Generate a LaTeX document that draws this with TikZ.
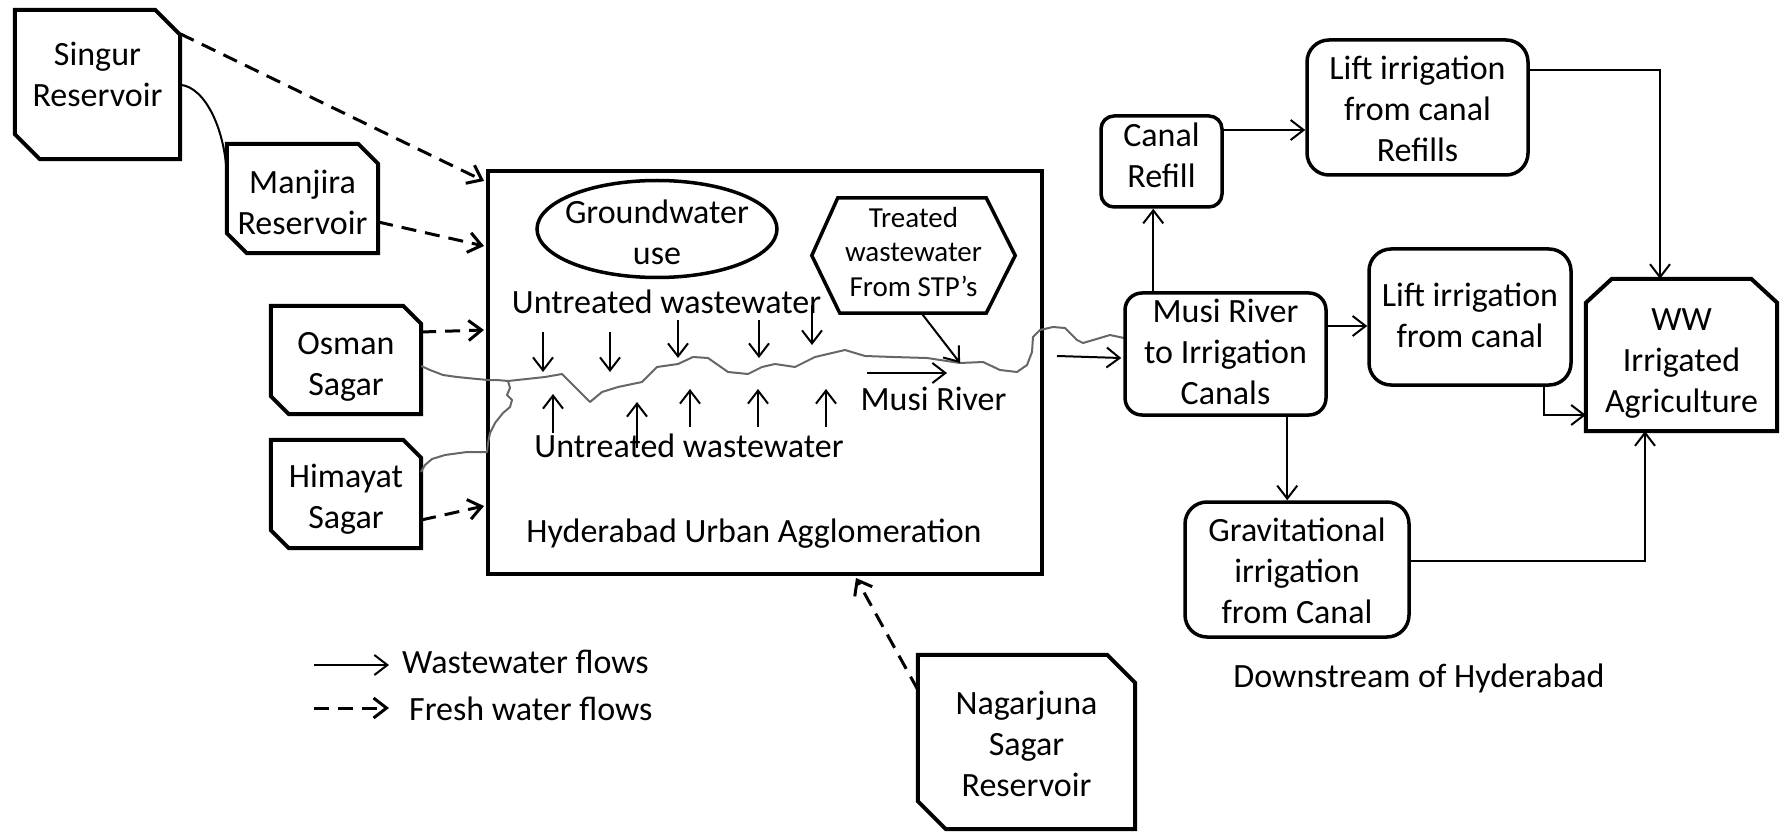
\documentclass[tikz,border=0pt]{standalone}
\usepackage{fontspec}
\setmainfont{Carlito}
\usetikzlibrary{arrows.meta,calc}
\newcommand\snipbox[2]{\draw[frame] (#1.north west) -- ([xshift=-#2 pt]#1.north east) -- ([yshift=-#2 pt]#1.north east) -- (#1.south east) -- ([xshift=#2 pt]#1.south west) -- ([yshift=#2 pt]#1.south west) -- cycle;}
\begin{document}
\begin{tikzpicture}[x=1pt,y=-1pt,
  T/.style={font=\fontsize{34}{41}\selectfont, align=center, inner sep=0pt, text height=24pt, text depth=8pt},
  frame/.style={line width=4pt, line join=miter},
  rbox/.style={T, draw, line width=3.5pt},
  wf/.style={line width=2pt, -{Straight Barb[length=13pt,width=20pt]}},
  ff/.style={line width=3pt, dash pattern=on 15pt off 9pt, -{Straight Barb[length=13pt,width=20pt]}},
  river/.style={draw=black!60, line width=2pt, line join=round}]
\useasboundingbox (0,0) rectangle (1780,834);

% ---------- left reservoirs ----------
\node[T, minimum width=165pt, minimum height=149pt, text height=53pt] (singur) at (97.5,84.5) {Singur\\Reservoir};
\snipbox{singur}{25}
\node[T, minimum width=151pt, minimum height=109pt, text height=81pt] (manjira) at (302.5,198.5) {Manjira\\Reservoir};
\snipbox{manjira}{20}
\node[T, minimum width=150pt, minimum height=108pt, text height=78pt] (osman) at (346,360) {Osman\\Sagar};
\snipbox{osman}{18}
\node[T, minimum width=150pt, minimum height=108pt, text height=76pt] (himayat) at (346,494) {Himayat\\Sagar};
\snipbox{himayat}{18}
\node[T, minimum width=217pt, minimum height=174pt, text height=116pt] (nagar) at (1026.5,742) {Nagarjuna\\Sagar\\Reservoir};
\snipbox{nagar}{28}

% ---------- main box ----------
\node[draw, line width=4pt, minimum width=554pt, minimum height=403pt, inner sep=0pt] (hua) at (765,372.5) {};
\node[T] (hualbl) at (754,534) {Hyderabad Urban Agglomeration};

% groundwater
\node[T, text height=80pt] (gw) at (657,229) {Groundwater\\use};
\draw[line width=3.5pt] (657,229) ellipse [x radius=120pt, y radius=48.5pt];

% treated wastewater hexagon
\node[font=\fontsize{29}{35}\selectfont, align=center, inner sep=0pt, text height=90pt, text depth=7pt, minimum width=203pt, minimum height=115pt] (stp) at (913.5,255.5) {Treated\\wastewater\\From STP’s};
\draw[line width=3.5pt, line join=miter] (stp.west) -- ([xshift=26pt]stp.north west) -- ([xshift=-29pt]stp.north east) -- (stp.east) -- ([xshift=-29pt]stp.south east) -- ([xshift=28pt]stp.south west) -- cycle;

% river
\draw[river] (osman.east) ++(0,6) coordinate (r0) -- (430,370) -- (443,375) -- (457,377) -- (477,379) -- (488,380) -- (497,380) -- (508,381) -- (545,377) -- (562,374) -- (590,402) -- (602,392) -- (618,387) -- (642,382) -- (657,367) -- (678,364) -- (693,357) -- (708,358) -- (728,372) -- (748,374) -- (762,367) -- (775,364) -- (795,367) -- (815,357) -- (845,350) -- (865,356) -- (893,357) -- (927,358) -- (960,363) coordinate (rv) -- (983,362) -- (1000,370) -- (1017,372) -- (1027,365) -- (1032,352) -- (1033,337) -- (1040,330) -- (1053,327) -- (1065,328) -- (1077,340) -- (1083,343) -- (1100,338) -- (1110,335) -- (1124,338);
\draw[river] (508,381) -- (510,388) -- (507,395) -- (512,400) -- (510,407) -- (503,413) -- (495,423) -- (490,433) -- (488,443) -- (487,452) -- (467,452) -- (445,455) -- (432,459) -- (425,465) -- (421,472);

% untreated wastewater
\node[T] (uw1) at (666.5,305) {Untreated wastewater};
\node[T] (uw2) at (689,449) {Untreated wastewater};
\foreach \x/\a/\b in {543/332/372, 610/332/372, 678/320/358, 759/320/358, 812/305/345}
  \draw[wf] (\x,\a) -- (\x,\b);
\foreach \x/\a/\b in {553/433/394, 637/448/402, 690/427/389, 758/427/389, 826/427/389}
  \draw[wf] (\x,\a) -- (\x,\b);

% Musi river label
\coordinate (mr1) at (867,373);
\coordinate (mr2) at (947,373);
\draw[wf] (mr1) -- (mr2);
\node[T] (musilbl) at (933.5,402) {Musi River};
\draw[wf] ([xshift=8pt]stp.south) -- (rv);

% ---------- fresh water flows ----------
\draw[ff] ([yshift=-24pt]singur.north east) -- ($(hua.north west)+(-2,12)$);
\draw[ff] ([yshift=-23.5pt]manjira.east) -- ($(hua.north west)+(-2,77)$);
\draw[ff] ([yshift=28pt]osman.east) -- ($(hua.north west)+(-2,161)$);
\draw[ff] ([yshift=-26pt]himayat.east) -- ($(hua.north west)+(-2,337)$);
\draw[ff] ([yshift=-35pt]nagar.north west) -- ($(hua.south west)+(370,2)$);
\draw[line width=2pt] ([yshift=-75pt]singur.north east) .. controls (206,87) and (226,132) .. ($(manjira.north west)+(0,34)$);

% ---------- downstream ----------
\node[rbox, rounded corners=13pt, minimum width=121pt, minimum height=91pt, text height=61pt] (canal) at (1161.5,161.5) {Canal\\Refill};
\node[rbox, rounded corners=22pt, minimum width=221pt, minimum height=135pt, text height=117pt] (liftref) at (1417.5,107.5) {Lift irrigation\\from canal\\Refills};
\node[rbox, rounded corners=17pt, minimum width=201pt, minimum height=122pt, text height=108pt] (musi) at (1225.5,354) {Musi River\\to Irrigation\\Canals};
\node[rbox, rounded corners=22pt, minimum width=202pt, minimum height=136pt, text height=68pt] (lift) at (1470,317) {Lift irrigation\\from canal};
\node[rbox, rounded corners=22pt, minimum width=224pt, minimum height=135pt, text height=115pt] (grav) at (1297,569.5) {Gravitational\\irrigation\\from Canal};
\node[T, minimum width=191pt, minimum height=152pt, text height=122pt] (ww) at (1681.5,355) {WW\\Irrigated\\Agriculture};
\draw[frame] (ww.south west) -- ([yshift=-24pt]ww.north west) -- ([xshift=26pt]ww.north west) -- ([xshift=-26pt]ww.north east) -- ([yshift=-24pt]ww.north east) -- (ww.south east) -- cycle;
\node[T] (down) at (1419,679) {Downstream of Hyderabad};

\draw[wf] ($(hua.north east)+(13,187)$) -- ($(musi.west)+(-2,4)$);
\draw[wf] ($(musi.north west)+(30,0)$) coordinate (m1) -- (m1 |- canal.south);
\draw[wf] ([yshift=31.5pt]canal.east) coordinate (c1) -- (c1 -| liftref.west);
\draw[wf] ([yshift=37.5pt]liftref.east) -| ($(ww.north)+(-21.5,0)$);
\draw[wf] ([yshift=28pt]musi.east) coordinate (c2) -- (c2 -| lift.west);
\draw[wf] ($(lift.south east)+(-29,0)$) |- ($(ww.west)+(0,60)$);
\draw[wf] ($(musi.south west)+(164,0)$) coordinate (m2) -- (m2 |- grav.north);
\draw[wf] ([yshift=8.5pt]grav.east) -| ($(ww.south)+(-36.5,0)$);

% ---------- legend ----------
\coordinate (la1) at (314,665);
\coordinate (la2) at (389,665);
\draw[wf] (la1) -- (la2);
\node[T, anchor=west] (lt1) at (402,665) {Wastewater flows};
\coordinate (lb1) at (314,708);
\coordinate (lb2) at (389,708);
\draw[ff] (lb1) -- (lb2);
\node[T, anchor=west] (lt2) at (409,712) {Fresh water flows};
\end{tikzpicture}
\end{document}
